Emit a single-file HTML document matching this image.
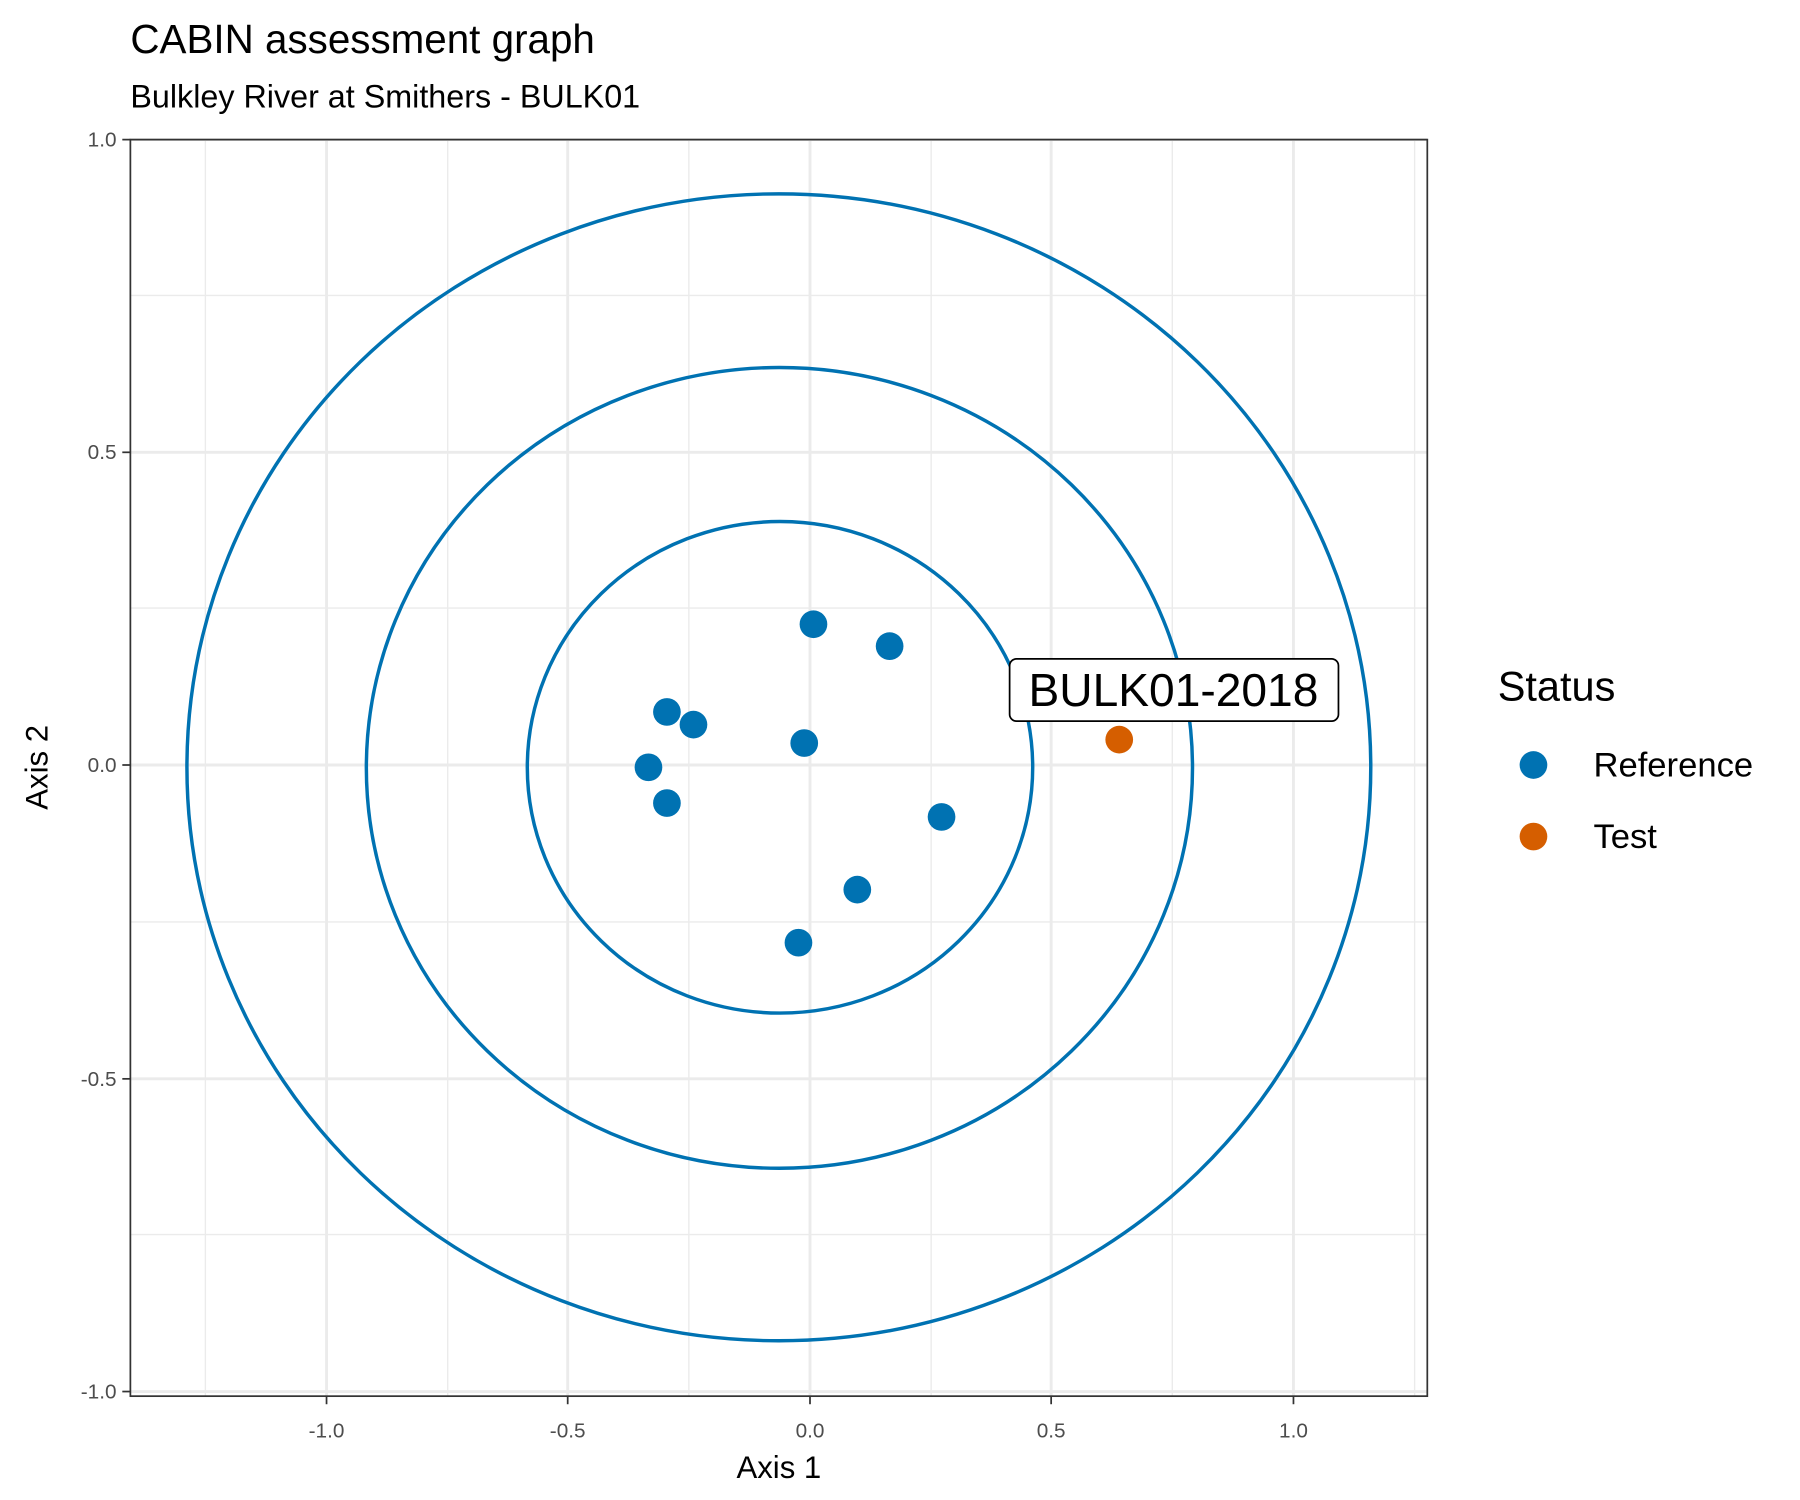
<!DOCTYPE html>
<html><head><meta charset="utf-8"><style>html,body{margin:0;padding:0;background:#fff}svg{display:block}</style></head>
<body>
<svg width="1800" height="1500" viewBox="0 0 1560 1300" xmlns="http://www.w3.org/2000/svg" font-family="Liberation Sans, Arial, sans-serif">
<rect width="1560" height="1300" fill="#fff"/>
<text x="113" y="46" font-size="35" fill="#000">CABIN assessment graph</text>
<text x="113" y="93" font-size="28" fill="#000">Bulkley River at Smithers - BULK01</text>
<g stroke="#ebebeb" stroke-width="1.2">
<line x1="178" y1="121" x2="178" y2="1210"/><line x1="388" y1="121" x2="388" y2="1210"/><line x1="597" y1="121" x2="597" y2="1210"/><line x1="807" y1="121" x2="807" y2="1210"/><line x1="1016" y1="121" x2="1016" y2="1210"/><line x1="1226" y1="121" x2="1226" y2="1210"/>
<line x1="113" y1="256" x2="1237" y2="256"/><line x1="113" y1="527" x2="1237" y2="527"/><line x1="113" y1="799" x2="1237" y2="799"/><line x1="113" y1="1070" x2="1237" y2="1070"/>
</g>
<g stroke="#ebebeb" stroke-width="2.5">
<line x1="283" y1="121" x2="283" y2="1210"/><line x1="492" y1="121" x2="492" y2="1210"/><line x1="702" y1="121" x2="702" y2="1210"/><line x1="911" y1="121" x2="911" y2="1210"/><line x1="1121" y1="121" x2="1121" y2="1210"/>
<line x1="113" y1="121" x2="1237" y2="121"/><line x1="113" y1="392" x2="1237" y2="392"/><line x1="113" y1="663" x2="1237" y2="663"/><line x1="113" y1="935" x2="1237" y2="935"/><line x1="113" y1="1206" x2="1237" y2="1206"/>
</g>
<g fill="none" stroke="#0072B2" stroke-width="3">
<ellipse cx="676" cy="665" rx="219" ry="213"/>
<ellipse cx="675.5" cy="665.5" rx="358" ry="347"/>
<ellipse cx="675" cy="665" rx="513" ry="497"/>
</g>
<g fill="#0072B2">
<circle cx="705" cy="541" r="12"/><circle cx="771" cy="560" r="12"/><circle cx="578" cy="617" r="12"/><circle cx="601" cy="628" r="12"/><circle cx="697" cy="644" r="12"/><circle cx="562" cy="665" r="12"/><circle cx="578" cy="696" r="12"/><circle cx="816" cy="708" r="12"/><circle cx="743" cy="771" r="12"/><circle cx="692" cy="817" r="12"/>
</g>
<circle cx="970" cy="641" r="12" fill="#D55E00"/>
<rect x="875" y="571" width="285" height="54" rx="6" fill="#fff" stroke="#000" stroke-width="1.5"/>
<text x="1017" y="612" font-size="40" text-anchor="middle" fill="#000">BULK01-2018</text>
<rect x="113" y="121" width="1124" height="1089" fill="none" stroke="#333" stroke-width="1.5"/>
<g stroke="#333" stroke-width="1.5">
<line x1="283" y1="1210" x2="283" y2="1217"/><line x1="492" y1="1210" x2="492" y2="1217"/><line x1="702" y1="1210" x2="702" y2="1217"/><line x1="911" y1="1210" x2="911" y2="1217"/><line x1="1121" y1="1210" x2="1121" y2="1217"/>
<line x1="106" y1="121" x2="113" y2="121"/><line x1="106" y1="392" x2="113" y2="392"/><line x1="106" y1="663" x2="113" y2="663"/><line x1="106" y1="935" x2="113" y2="935"/><line x1="106" y1="1206" x2="113" y2="1206"/>
</g>
<g font-size="18" fill="#4d4d4d" text-anchor="middle">
<text x="283" y="1246">-1.0</text><text x="492" y="1246">-0.5</text><text x="702" y="1246">0.0</text><text x="911" y="1246">0.5</text><text x="1121" y="1246">1.0</text>
</g>
<g font-size="18" fill="#4d4d4d" text-anchor="end">
<text x="101" y="127">1.0</text><text x="101" y="398">0.5</text><text x="101" y="669">0.0</text><text x="101" y="941">-0.5</text><text x="101" y="1212">-1.0</text>
</g>
<text x="675" y="1281" font-size="27" text-anchor="middle" fill="#000">Axis 1</text>
<text transform="translate(41,665) rotate(-90)" font-size="27" text-anchor="middle" fill="#000">Axis 2</text>
<text x="1298" y="607" font-size="36" fill="#000">Status</text>
<circle cx="1329" cy="663" r="12" fill="#0072B2"/>
<circle cx="1329" cy="725" r="12" fill="#D55E00"/>
<text x="1381" y="673" font-size="30" fill="#000">Reference</text>
<text x="1381" y="735" font-size="30" fill="#000">Test</text>
</svg>
</body></html>
